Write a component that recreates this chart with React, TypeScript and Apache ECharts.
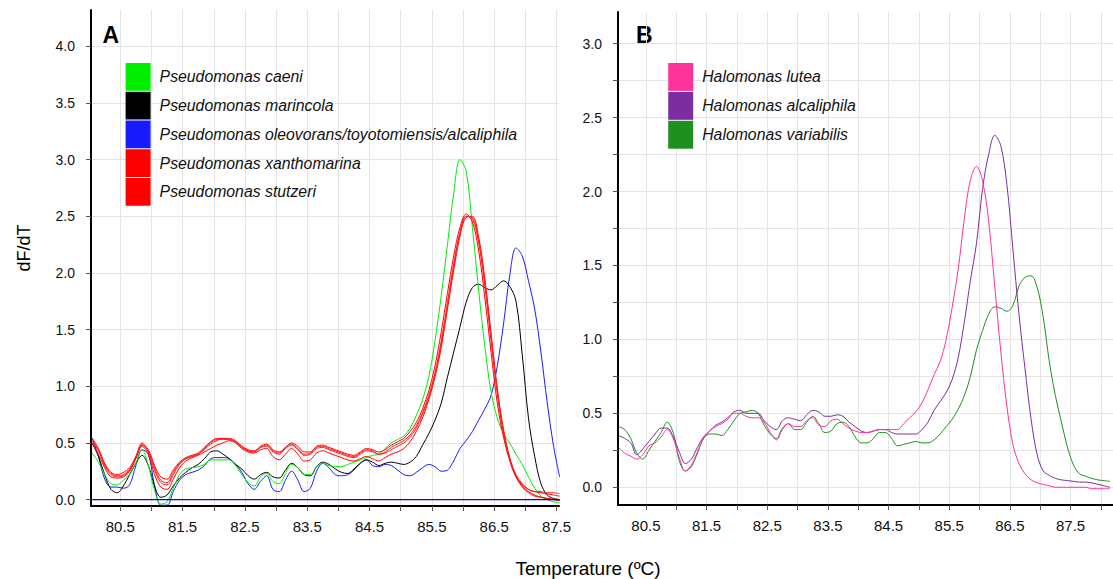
import React, { useEffect, useRef } from "react";
import * as echarts from "echarts";

// ---------------- Panel A data (Pseudomonas) ----------------
const tempsA = [
  80.05, 80.15, 80.25, 80.35, 80.45, 80.55, 80.65, 80.75, 80.85, 80.95,
  81.05, 81.15, 81.25, 81.35, 81.45, 81.55, 81.65, 81.75, 81.85, 81.95,
  82.05, 82.15, 82.25, 82.35, 82.45, 82.55, 82.65, 82.75, 82.85, 82.95,
  83.05, 83.15, 83.25, 83.35, 83.45, 83.55, 83.65, 83.75, 83.85, 83.95,
  84.05, 84.15, 84.25, 84.35, 84.45, 84.55, 84.65, 84.75, 84.85, 84.95,
  85.05, 85.15, 85.25, 85.35, 85.45, 85.55, 85.65, 85.75, 85.85, 85.95,
  86.05, 86.15, 86.25, 86.35, 86.45, 86.55, 86.65, 86.75, 86.85, 86.95,
  87.05, 87.15, 87.25, 87.35, 87.45, 87.55,
];

const caeni = [
  0.41, 0.33, 0.22, 0.14, 0.13, 0.17, 0.22, 0.32, 0.44, 0.30,
  0.08, -0.04, -0.02, 0.10, 0.22, 0.27, 0.28, 0.29, 0.31, 0.35,
  0.35, 0.35, 0.35, 0.30, 0.22, 0.15, 0.12, 0.20, 0.23, 0.16,
  0.14, 0.23, 0.31, 0.28, 0.22, 0.22, 0.29, 0.32, 0.30, 0.29,
  0.29, 0.31, 0.33, 0.35, 0.37, 0.39, 0.40, 0.45, 0.50, 0.53,
  0.56, 0.63, 0.74, 0.88, 1.08, 1.40, 1.80, 2.25, 2.70, 3.00,
  2.90, 2.40, 1.85, 1.35, 0.95, 0.72, 0.58, 0.50, 0.40, 0.31,
  0.20, 0.10, 0.03, 0.0, -0.02, -0.03,
];

const marincola = [
  0.50, 0.38, 0.22, 0.09, 0.06, 0.12, 0.22, 0.32, 0.39, 0.30,
  0.12, 0.02, 0.04, 0.12, 0.19, 0.24, 0.28, 0.31, 0.36, 0.42,
  0.43, 0.40, 0.36, 0.31, 0.27, 0.21, 0.18, 0.22, 0.24, 0.20,
  0.19, 0.26, 0.32, 0.28, 0.22, 0.21, 0.29, 0.33, 0.31, 0.27,
  0.24, 0.23, 0.27, 0.32, 0.35, 0.33, 0.30, 0.32, 0.33, 0.32,
  0.31, 0.33, 0.38, 0.48, 0.58, 0.70, 0.85, 1.08, 1.30, 1.52,
  1.74, 1.87, 1.90, 1.87, 1.85, 1.89, 1.93, 1.88, 1.75, 1.28,
  0.72, 0.38, 0.14, 0.04, 0.01, 0.0,
];

const oleovorans = [
  0.54, 0.38, 0.18, 0.11, 0.11, 0.10, 0.13, 0.30, 0.44, 0.40,
  0.12, -0.05, -0.05, 0.07, 0.17, 0.22, 0.24, 0.26, 0.30, 0.36,
  0.37, 0.37, 0.36, 0.31, 0.24, 0.14, 0.09, 0.16, 0.21, 0.09,
  0.07, 0.17, 0.25, 0.17, 0.07, 0.10, 0.25, 0.32, 0.28, 0.22,
  0.21, 0.22, 0.26, 0.32, 0.35, 0.30, 0.29, 0.31, 0.30, 0.26,
  0.22, 0.21, 0.24, 0.28, 0.31, 0.29, 0.25, 0.26, 0.34, 0.45,
  0.52, 0.60, 0.70, 0.80, 0.92, 1.18, 1.55, 1.98, 2.22, 2.15,
  1.93, 1.68, 1.30, 0.86, 0.48, 0.20,
];

const ntcTemps = [80.05, 87.55];
const ntcValues = [0.0, 0.0];

const xanthomarina1 = [
  0.54, 0.45, 0.32, 0.24, 0.22, 0.24, 0.28, 0.38, 0.48, 0.44,
  0.30, 0.20, 0.18, 0.26, 0.33, 0.37, 0.39, 0.41, 0.46, 0.51,
  0.54, 0.54, 0.53, 0.51, 0.47, 0.44, 0.43, 0.47, 0.49, 0.44,
  0.42, 0.46, 0.50, 0.47, 0.42, 0.42, 0.47, 0.48, 0.46, 0.44,
  0.42, 0.40, 0.39, 0.42, 0.45, 0.44, 0.42, 0.44, 0.48, 0.51,
  0.54, 0.60, 0.68, 0.80, 0.96, 1.18, 1.48, 1.82, 2.15, 2.40,
  2.52, 2.45, 2.20, 1.78, 1.30, 0.85, 0.55, 0.34, 0.20, 0.13,
  0.09, 0.07, 0.06, 0.05, 0.04, 0.03,
];

const xanthomarina2 = [
  0.51, 0.43, 0.30, 0.22, 0.20, 0.21, 0.26, 0.37, 0.49, 0.42,
  0.26, 0.15, 0.13, 0.22, 0.31, 0.36, 0.38, 0.40, 0.44, 0.49,
  0.52, 0.54, 0.54, 0.52, 0.47, 0.43, 0.42, 0.46, 0.47, 0.42,
  0.40, 0.45, 0.48, 0.44, 0.39, 0.40, 0.45, 0.46, 0.44, 0.42,
  0.40, 0.38, 0.37, 0.40, 0.43, 0.42, 0.40, 0.42, 0.46, 0.49,
  0.52, 0.57, 0.65, 0.77, 0.92, 1.12, 1.40, 1.74, 2.08, 2.36,
  2.50, 2.48, 2.27, 1.88, 1.40, 0.93, 0.58, 0.35, 0.20, 0.11,
  0.06, 0.03, 0.02, 0.01, 0.0, -0.01,
];

const stutzeri1 = [
  0.49, 0.40, 0.28, 0.20, 0.19, 0.20, 0.25, 0.36, 0.47, 0.40,
  0.22, 0.11, 0.09, 0.18, 0.28, 0.34, 0.37, 0.39, 0.42, 0.45,
  0.48, 0.50, 0.52, 0.50, 0.45, 0.42, 0.41, 0.44, 0.45, 0.38,
  0.35, 0.40, 0.45, 0.40, 0.34, 0.35, 0.41, 0.43, 0.41, 0.39,
  0.37, 0.35, 0.34, 0.36, 0.38, 0.36, 0.34, 0.37, 0.40, 0.42,
  0.45, 0.51, 0.60, 0.72, 0.88, 1.08, 1.34, 1.68, 2.02, 2.32,
  2.49, 2.50, 2.32, 1.95, 1.47, 0.98, 0.62, 0.37, 0.21, 0.12,
  0.07, 0.04, 0.02, 0.01, 0.0, -0.01,
];

const stutzeri2 = [
  0.52, 0.44, 0.31, 0.23, 0.21, 0.22, 0.27, 0.38, 0.50, 0.43,
  0.28, 0.17, 0.15, 0.24, 0.32, 0.36, 0.38, 0.40, 0.45, 0.50,
  0.53, 0.53, 0.53, 0.51, 0.46, 0.43, 0.42, 0.46, 0.48, 0.43,
  0.41, 0.46, 0.49, 0.45, 0.40, 0.41, 0.46, 0.47, 0.45, 0.43,
  0.41, 0.39, 0.38, 0.41, 0.44, 0.43, 0.40, 0.41, 0.44, 0.47,
  0.50, 0.55, 0.63, 0.75, 0.90, 1.10, 1.37, 1.71, 2.05, 2.34,
  2.50, 2.49, 2.29, 1.92, 1.44, 0.96, 0.60, 0.36, 0.22, 0.14,
  0.09, 0.07, 0.07, 0.06, 0.06, 0.05,
];

// ---------------- Panel B data (Halomonas) ----------------
const tempsB = [
  80.05, 80.15, 80.25, 80.35, 80.45, 80.55, 80.65, 80.75, 80.85, 80.95,
  81.05, 81.15, 81.25, 81.35, 81.45, 81.55, 81.65, 81.75, 81.85, 81.95,
  82.05, 82.15, 82.25, 82.35, 82.45, 82.55, 82.65, 82.75, 82.85, 82.95,
  83.05, 83.15, 83.25, 83.35, 83.45, 83.55, 83.65, 83.75, 83.85, 83.95,
  84.05, 84.15, 84.25, 84.35, 84.45, 84.55, 84.65, 84.75, 84.85, 84.95,
  85.05, 85.15, 85.25, 85.35, 85.45, 85.55, 85.65, 85.75, 85.85, 85.95,
  86.05, 86.15, 86.25, 86.35, 86.45, 86.55, 86.65, 86.75, 86.85, 86.95,
  87.05, 87.15, 87.25, 87.35, 87.45, 87.55, 87.65, 87.75, 87.85, 87.95,
  88.05, 88.15,
];

const lutea = [
  0.27, 0.23, 0.21, 0.19, 0.22, 0.28, 0.30, 0.34, 0.39, 0.33,
  0.20, 0.11, 0.15, 0.24, 0.33, 0.38, 0.41, 0.43, 0.46, 0.50,
  0.50, 0.48, 0.47, 0.47, 0.44, 0.37, 0.32, 0.39, 0.43, 0.41,
  0.41, 0.45, 0.47, 0.42, 0.41, 0.45, 0.46, 0.43, 0.40, 0.38,
  0.37, 0.37, 0.38, 0.39, 0.39, 0.39, 0.39, 0.43, 0.47, 0.51,
  0.57, 0.66, 0.76, 0.85, 1.00, 1.22, 1.48, 1.82, 2.08, 2.17,
  2.07, 1.80, 1.36, 0.92, 0.55, 0.29, 0.16, 0.09, 0.05, 0.03,
  0.02, 0.01, 0.0, 0.0, 0.0, 0.0, 0.0, 0.0, -0.01, -0.01,
  -0.01, -0.01,
];

const alcaliphila = [
  0.35, 0.33, 0.30, 0.22, 0.26, 0.31, 0.36, 0.40, 0.40, 0.34,
  0.24, 0.16, 0.19, 0.27, 0.34, 0.38, 0.42, 0.44, 0.47, 0.51,
  0.52, 0.50, 0.50, 0.50, 0.45, 0.41, 0.39, 0.45, 0.47, 0.46,
  0.45, 0.49, 0.52, 0.51, 0.48, 0.48, 0.49, 0.48, 0.44, 0.41,
  0.38, 0.37, 0.38, 0.39, 0.39, 0.37, 0.36, 0.36, 0.36, 0.36,
  0.39, 0.44, 0.52, 0.58, 0.64, 0.73, 0.88, 1.12, 1.40, 1.65,
  2.02, 2.25, 2.38, 2.31, 2.05, 1.61, 1.17, 0.80, 0.46, 0.22,
  0.11, 0.08, 0.06, 0.05, 0.045, 0.04, 0.035, 0.035, 0.03, 0.02,
  0.01, 0.0,
];

const variabilis = [
  0.41, 0.39, 0.33, 0.23, 0.19, 0.25, 0.31, 0.37, 0.44, 0.37,
  0.18, 0.11, 0.14, 0.23, 0.33, 0.36, 0.36, 0.35, 0.39, 0.45,
  0.50, 0.51, 0.52, 0.50, 0.42, 0.36, 0.33, 0.40, 0.43, 0.39,
  0.39, 0.44, 0.48, 0.43, 0.37, 0.38, 0.43, 0.44, 0.41, 0.34,
  0.30, 0.30, 0.33, 0.37, 0.37, 0.33, 0.28, 0.29, 0.30, 0.31,
  0.30, 0.30, 0.32, 0.36, 0.41, 0.46, 0.53, 0.62, 0.75, 0.93,
  1.06, 1.17, 1.22, 1.21, 1.19, 1.23, 1.36, 1.42, 1.43, 1.35,
  1.15, 0.85, 0.62, 0.44, 0.27, 0.15, 0.09, 0.075, 0.06, 0.05,
  0.045, 0.04,
];

// ---------------- Axis ticks / labels ----------------
const xTicksA = [80.5, 81.0, 81.5, 82.0, 82.5, 83.0, 83.5, 84.0, 84.5, 85.0, 85.5, 86.0, 86.5, 87.0, 87.5];
const xTicksB = [80.5, 81.0, 81.5, 82.0, 82.5, 83.0, 83.5, 84.0, 84.5, 85.0, 85.5, 86.0, 86.5, 87.0, 87.5, 88.0];
const xLabels = [80.5, 81.5, 82.5, 83.5, 84.5, 85.5, 86.5, 87.5];
const yTicksA = [0, 0.5, 1.0, 1.5, 2.0, 2.5, 3.0, 3.5, 4.0];
const yLabelsA = [0, 0.5, 1.0, 1.5, 2.0, 2.5, 3.0, 3.5, 4.0];
const yTicksB = [0, 0.25, 0.5, 0.75, 1.0, 1.25, 1.5, 1.75, 2.0, 2.25, 2.5, 2.75, 3.0];
const yLabelsB = [0, 0.5, 1.0, 1.5, 2.0, 2.5, 3.0];

const legendA = [
  "Pseudomonas caeni",
  "Pseudomonas marincola",
  "Pseudomonas oleovorans/toyotomiensis/alcaliphila",
  "Pseudomonas xanthomarina",
  "Pseudomonas stutzeri",
];
const legendB = ["Halomonas lutea", "Halomonas alcaliphila", "Halomonas variabilis"];

const FONT = '"Liberation Sans", Arial, Helvetica, sans-serif';

const pairs = (t: number[], v: number[]) => t.map((x, i) => [x, v[i]]);

const line = (name: string, color: string, t: number[], v: number[], idx: number, width = 1, z = 2) => ({
  type: "line",
  name,
  xAxisIndex: idx,
  yAxisIndex: idx,
  data: pairs(t, v),
  showSymbol: false,
  symbol: "none",
  smooth: 0.35,
  silent: true,
  z,
  lineStyle: { color, width },
  itemStyle: { color },
});

const xAxisCfg = (idx: number, min: number, max: number, ticks: number[]) => ({
  type: "value",
  gridIndex: idx,
  min,
  max,
  axisLine: { show: true, onZero: false, lineStyle: { color: "#000", width: 2 } },
  axisTick: { show: true, length: 5, customValues: ticks, lineStyle: { color: "#555", width: 1 } },
  axisLabel: {
    customValues: xLabels,
    formatter: (v: number) => v.toFixed(1),
    fontSize: 15,
    fontFamily: FONT,
    color: "#111",
    margin: 13,
  },
  splitLine: { show: true, lineStyle: { color: "#e4e4e4", width: 1 } },
});

const yAxisCfg = (idx: number, min: number, max: number, ticks: number[], labels: number[]) => ({
  type: "value",
  gridIndex: idx,
  min,
  max,
  axisLine: { show: true, onZero: false, lineStyle: { color: "#000", width: 2 } },
  axisTick: { show: true, length: 5, customValues: ticks, lineStyle: { color: "#555", width: 1 } },
  axisLabel: {
    customValues: labels,
    formatter: (v: number) => v.toFixed(1),
    fontSize: 14,
    fontFamily: FONT,
    color: "#111",
    margin: 16,
  },
  splitLine: { show: true, lineStyle: { color: "#e4e4e4", width: 1 } },
});

const legendCfg = (names: string[], left: number, itemHeight: number) => ({
  data: names,
  left,
  top: 63,
  orient: "vertical",
  icon: "rect",
  itemWidth: 25,
  itemHeight,
  itemGap: 1,
  padding: 0,
  selectedMode: false,
  itemStyle: { borderWidth: 0 },
  textStyle: {
    fontStyle: "italic",
    fontSize: 15.8,
    fontFamily: FONT,
    color: "#111",
    padding: [0, 0, 0, 4],
  },
});

const option = {
  animation: false,
  backgroundColor: "#ffffff",
  grid: [
    { left: 91, top: 10, width: 468, height: 496, outerBoundsMode: "none", containLabel: false },
    { left: 618, top: 12, width: 495, height: 493, outerBoundsMode: "none", containLabel: false },
  ],
  xAxis: [xAxisCfg(0, 80.03, 87.54, xTicksA), xAxisCfg(1, 80.04, 88.2, xTicksB)],
  yAxis: [yAxisCfg(0, -0.057, 4.32, yTicksA, yLabelsA), yAxisCfg(1, -0.12, 3.214, yTicksB, yLabelsB)],
  legend: [legendCfg(legendA, 125.6, 27.75), legendCfg(legendB, 668.2, 27.9)],
  graphic: [
    {
      type: "text",
      x: 102.5,
      y: 35,
      style: { text: "A", font: `bold 23px ${FONT}`, fill: "#000", align: "left", verticalAlign: "middle", textAlign: "left", textVerticalAlign: "middle" },
    },
    {
      type: "text",
      x: 636,
      y: 35,
      style: { text: "B", font: `bold 23px ${FONT}`, fill: "#000", align: "left", verticalAlign: "middle", textAlign: "left", textVerticalAlign: "middle" },
    },
    {
      type: "text",
      x: 588,
      y: 568,
      style: { text: "Temperature (ºC)", font: `19px ${FONT}`, fill: "#000", align: "center", verticalAlign: "middle", textAlign: "center", textVerticalAlign: "middle" },
    },
    {
      type: "text",
      x: 24,
      y: 248,
      rotation: Math.PI / 2,
      style: { text: "dF/dT", font: `18px ${FONT}`, fill: "#000", align: "center", verticalAlign: "middle", textAlign: "center", textVerticalAlign: "middle" },
    },
  ],
  series: [
    line("NTC", "#0000ff", ntcTemps, ntcValues, 0, 1.3, 5),
    line(legendA[2], "#1a1aff", tempsA, oleovorans, 0),
    line(legendA[1], "#000000", tempsA, marincola, 0),
    line(legendA[0], "#00ee00", tempsA, caeni, 0),
    line(legendA[3], "#ff0000", tempsA, xanthomarina1, 0),
    line(legendA[3], "#ff1a1a", tempsA, xanthomarina2, 0),
    line(legendA[4], "#ff0000", tempsA, stutzeri1, 0),
    line(legendA[4], "#ff2020", tempsA, stutzeri2, 0),
    line(legendB[2], "#1f8f1f", tempsB, variabilis, 1),
    line(legendB[1], "#7a2ea0", tempsB, alcaliphila, 1),
    line(legendB[0], "#ff3399", tempsB, lutea, 1),
  ],
};

export default function App() {
  const ref = useRef<HTMLDivElement>(null);
  useEffect(() => {
    const chart = echarts.init(ref.current as HTMLDivElement, null, { renderer: "svg" });
    chart.setOption(option as any);
    return () => chart.dispose();
  }, []);
  return (
    <div
      ref={ref}
      style={{ position: "fixed", left: 0, top: 0, width: 1113, height: 579, background: "#fff" }}
    />
  );
}
